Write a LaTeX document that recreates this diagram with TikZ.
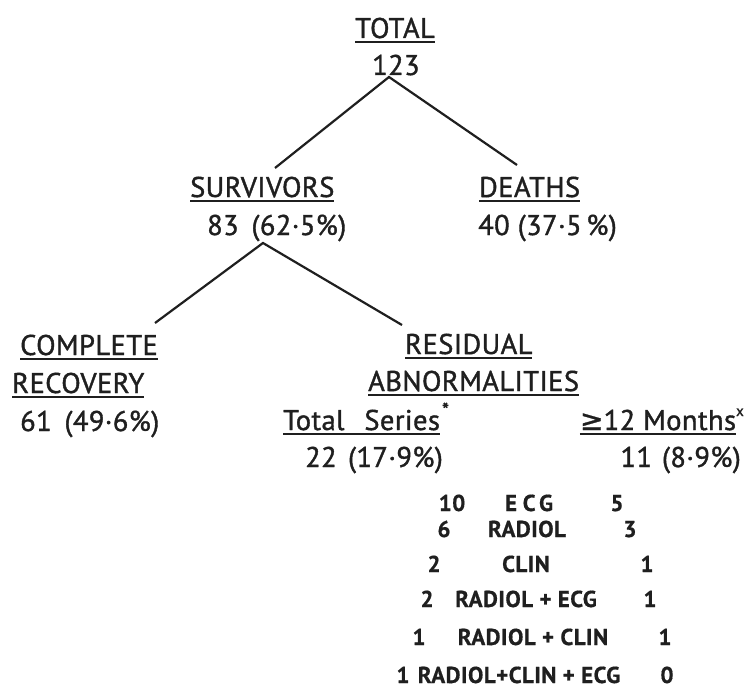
\documentclass[tikz,border=0pt]{standalone}
\usepackage{fontspec}
\setmainfont{PT Sans}
\newfontfamily\labfont[FakeBold=1.3,LetterSpace=1.5]{PT Sans}
\newfontfamily\tabfont[FakeBold=0.6,LetterSpace=2]{PT Sans Bold}
\newfontfamily\dejavu[FakeBold=1]{DejaVu Sans}
\newcommand{\myul}[1]{\setbox0\hbox{#1}\rlap{\rule[-5.3pt]{\wd0}{2.7pt}}\box0}
\begin{document}
\begin{tikzpicture}[x=1pt,y=-1pt,
  lab/.style={anchor=base west,inner sep=0pt,text=black!88,font=\labfont\fontsize{28.5}{30}\selectfont},
  tab/.style={anchor=base,inner sep=0pt,text=black!88,font=\tabfont\fontsize{23}{24}\selectfont},
  conn/.style={draw=black!88,line width=2.2pt}]
\useasboundingbox (0,0) rectangle (744,695);
% level 0
\node[lab] (total) at (355,38) {\myul{TOTAL}};
\node[lab] (n123) at (372,75) {123};
% level 1
\node[lab] (surv) at (190,197) {\myul{SURVIVORS}};
\node[lab] (survn) at (207,235) {83\hspace{0.45em}(62·5\%)};
\node[lab] (death) at (479,197) {\myul{DEATHS}};
\node[lab] (deathn) at (478,235) {40 (37·5\,\%)};
% level 2
\node[lab] (comp) at (20,355) {\myul{COMPLETE}};
\node[lab] (recov) at (12,393) {\myul{RECOVERY}};
\node[lab] (recn) at (20,431) {61\hspace{0.45em}(49·6\%)};
\node[lab] (resid) at (405,354) {\myul{RESIDUAL}};
\node[lab] (abn) at (368,391) {\myul{ABNORMALITIES}};
\node[lab] (tser) at (283,430) {\myul{Total\hspace{0.7em}Series}\hspace{2pt}\raisebox{13pt}{\fontsize{20}{20}\selectfont *}};
\node[lab] (tsern) at (305,467) {22\hspace{0.4em}(17·9\%)};
\node[lab,anchor=base east] (mon) at (744,430) {\myul{{\dejavu ≥}12 Months}\raisebox{14pt}{\fontsize{15}{15}\selectfont x}};
\node[lab,anchor=base east] (monn) at (741,467) {11\hspace{0.35em}(8·9\%)};
% table
\node[tab] (r1a) at (452,511) {10};
\node[tab] (r1b) at (529,511) {E\hspace{0.25em}C\hspace{0.15em}G};
\node[tab] (r1c) at (617,511) {5};
\node[tab] (r2a) at (444,537) {6};
\node[tab] (r2b) at (527,537) {RADIOL};
\node[tab] (r2c) at (630,537) {3};
\node[tab] (r3a) at (434,572) {2};
\node[tab] (r3b) at (526,572) {CLIN};
\node[tab] (r3c) at (647,572) {1};
\node[tab] (r4a) at (427,607) {2};
\node[tab] (r4b) at (526,607) {RADIOL + ECG};
\node[tab] (r4c) at (650,607) {1};
\node[tab] (r5a) at (419,645) {1};
\node[tab] (r5b) at (533,645) {RADIOL + CLIN};
\node[tab] (r5c) at (665,645) {1};
\node[tab] (r6a) at (403,683) {1};
\node[tab] (r6b) at (519,683) {RADIOL+CLIN + ECG};
\node[tab] (r6c) at (667,683) {0};
% connectors
\coordinate (apex0) at (389,77);
\coordinate (endS) at (275,168);
\coordinate (endD) at (517,165);
\coordinate (apex1) at (263,243);
\coordinate (endC) at (155,323);
\coordinate (endR) at (402,325);
\draw[conn] (endS) -- (apex0) -- (endD);
\draw[conn] (endC) -- (apex1) -- (endR);
\end{tikzpicture}
\end{document}
